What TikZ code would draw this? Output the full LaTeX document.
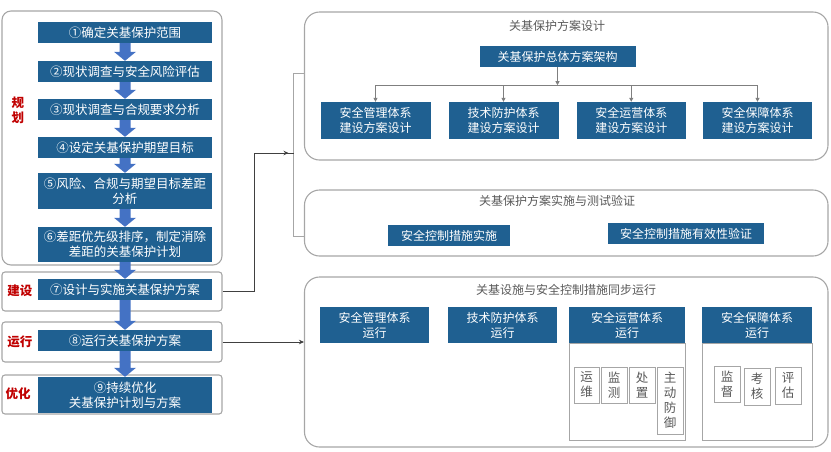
\documentclass[tikz,border=0pt]{standalone}
\usepackage{fontspec}
\setmainfont{Noto Sans CJK SC}
\usetikzlibrary{arrows.meta,calc}
\definecolor{boxblue}{RGB}{31,96,145}
\definecolor{arrblue}{RGB}{68,114,196}
\definecolor{frame}{RGB}{166,166,166}
\definecolor{lbl}{RGB}{192,0,0}
\definecolor{txtgrey}{RGB}{89,89,89}
\definecolor{linegrey}{RGB}{127,127,127}
\tikzset{
  bluebox/.style={fill=boxblue, text=white, inner sep=0pt, align=center, font=\fontsize{12.5}{15}\selectfont},
  subbox/.style={fill=boxblue, text=white, inner sep=0pt, align=center, font=\fontsize{12}{15}\selectfont},
  planframe/.style={draw=frame, line width=1.1pt, rounded corners=9pt, inner sep=0pt},
  stage/.style={draw=frame, line width=1.1pt, rounded corners=3pt, inner sep=0pt},
  panel/.style={draw=frame, line width=1.1pt, rounded corners=15pt, inner sep=0pt},
  holder/.style={draw=frame, line width=0.9pt, fill=white, inner sep=0pt},
  tinybox/.style={draw=frame, line width=0.9pt, inner sep=0pt, align=center, text=txtgrey, font=\fontsize{12.5}{15}\selectfont},
  title/.style={text=txtgrey, font=\fontsize{12}{14}\selectfont, inner sep=0pt},
  redlbl/.style={text=lbl, font=\bfseries\fontsize{12.5}{15}\selectfont, align=center, inner sep=0pt},
  conn/.style={draw=black!75, line width=0.7pt},
  brkline/.style={draw=frame, line width=1pt},
  tree/.style={draw=linegrey, line width=0.8pt, -{Triangle[length=4pt,width=4pt]}},
}
\newcommand\bx[7]{\node[#1, minimum width={#5-#3}, minimum height={#6-#4}] (#2) at ({(#3+#5)/2},{(#4+#6)/2}) {#7};}
\newcommand\barrow[2]{\fill[arrblue] ($(#1.south)+(-5.5,0)$) -- ($(#1.south)+(5.5,0)$) -- ($(#2.north)+(5.5,-9)$) -- ($(#2.north)+(11,-9)$) -- (#2.north) -- ($(#2.north)+(-11,-9)$) -- ($(#2.north)+(-5.5,-9)$) -- cycle;}
\begin{document}
\begin{tikzpicture}[x=1pt,y=-1pt]
\useasboundingbox (0,0) rectangle (831,451);
% left stage frames
\bx{planframe}{plan}{2}{11}{222}{265}{}
\bx{stage}{build}{2}{272}{222}{311}{}
\bx{stage}{run}{2}{322}{222}{362}{}
\bx{stage}{opt}{2}{375}{222}{414}{}
% left steps
\bx{bluebox}{b1}{38}{22}{212}{43}{①确定关基保护范围}
\bx{bluebox}{b2}{38}{61}{212}{82}{②现状调查与安全风险评估}
\bx{bluebox}{b3}{38}{99}{212}{120}{③现状调查与合规要求分析}
\bx{bluebox}{b4}{38}{137}{212}{158}{④设定关基保护期望目标}
\bx{bluebox}{b5}{38}{173}{212}{209}{⑤风险、合规与期望目标差距\\分析}
\bx{bluebox}{b6}{38}{227}{212}{262}{⑥差距优先级排序，制定消除\\差距的关基保护计划}
\bx{bluebox}{b7}{38}{279}{212}{300}{⑦设计与实施关基保护方案}
\bx{bluebox}{b8}{38}{330}{212}{351}{⑧运行关基保护方案}
\bx{bluebox}{b9}{38}{377}{212}{413}{⑨持续优化\\关基保护计划与方案}
\barrow{b1}{b2}
\barrow{b2}{b3}
\barrow{b3}{b4}
\barrow{b4}{b5}
\barrow{b5}{b6}
\barrow{b6}{b7}
\barrow{b7}{b8}
\barrow{b8}{b9}
% stage labels
\node[redlbl] (lplan) at (18,110) {规\\划};
\node[redlbl] (lbuild) at (20,291) {建设};
\node[redlbl] (lrun) at (20,342) {运行};
\node[redlbl] (lopt) at (18,394) {优化};
% right panels
\bx{panel}{design}{304.5}{12}{828}{160}{}
\bx{panel}{impl}{304.5}{190}{828}{256}{}
\bx{panel}{oper}{304.5}{277}{828}{447}{}
\node[title] (tdesign) at (557,25.5) {关基保护方案设计};
\node[title] (timpl) at (557,201) {关基保护方案实施与测试验证};
\node[title] (toper) at (566,290) {关基设施与安全控制措施同步运行};
% design
\bx{subbox}{arch}{479.5}{46}{635.5}{67}{关基保护总体方案架构}
\bx{subbox}{d1}{320.5}{102}{430.5}{139}{安全管理体系\\建设方案设计}
\bx{subbox}{d2}{448.5}{102}{558.5}{139}{技术防护体系\\建设方案设计}
\bx{subbox}{d3}{576.5}{102}{686}{139}{安全运营体系\\建设方案设计}
\bx{subbox}{d4}{703}{102}{812}{139}{安全保障体系\\建设方案设计}
\coordinate (hub) at ($(arch.south)+(0,18)$);
\draw[tree] (arch.south) -- (hub);
\draw[tree] (hub) -| (d1.north);
\draw[tree] (hub) -| (d2.north);
\draw[tree] (hub) -| (d3.north);
\draw[tree] (hub) -| (d4.north);
% implementation
\bx{subbox}{i1}{388}{225}{510}{246}{安全控制措施实施}
\bx{subbox}{i2}{608}{223}{764}{244}{安全控制措施有效性验证}
% operation
\bx{holder}{h3}{569}{343}{685}{440}{}
\bx{holder}{h4}{702}{343}{812}{440}{}
\bx{subbox}{o1}{320}{307}{429}{343}{安全管理体系\\运行}
\bx{subbox}{o2}{448}{307}{557}{343}{技术防护体系\\运行}
\bx{subbox}{o3}{569}{307}{685}{343}{安全运营体系\\运行}
\bx{subbox}{o4}{702}{307}{812}{343}{安全保障体系\\运行}
\bx{tinybox}{t1}{574}{367}{599}{403}{运\\维}
\bx{tinybox}{t2}{601}{367}{627}{403}{监\\测}
\bx{tinybox}{t3}{629}{367}{655}{403}{处\\置}
\bx{tinybox}{t4}{657}{367}{683}{434}{主\\动\\防\\御}
\bx{tinybox}{t5}{714}{366}{740}{402}{监\\督}
\bx{tinybox}{t6}{744}{368}{770}{405}{考\\核}
\bx{tinybox}{t7}{775}{367}{801}{404}{评\\估}
% connectors
\coordinate (elbow) at (254,153);
\coordinate (brk) at (293.5,153);
\coordinate (brtop) at (293.5,73);
\coordinate (brbot) at (293.5,236);
\draw[brkline] (design.west |- brtop) -- (brtop) -- (brbot) -- (impl.west |- brbot);
\draw[conn] (build.east) -| (elbow) -- (brk);
\draw[conn, -{Stealth[length=5pt,width=4.5pt]}] (elbow) -- ($(brk)+(-5,0)$);
\draw[conn, -{Stealth[length=5pt,width=4.5pt]}] (run.east) -- (oper.west |- run.east);
\end{tikzpicture}
\end{document}
